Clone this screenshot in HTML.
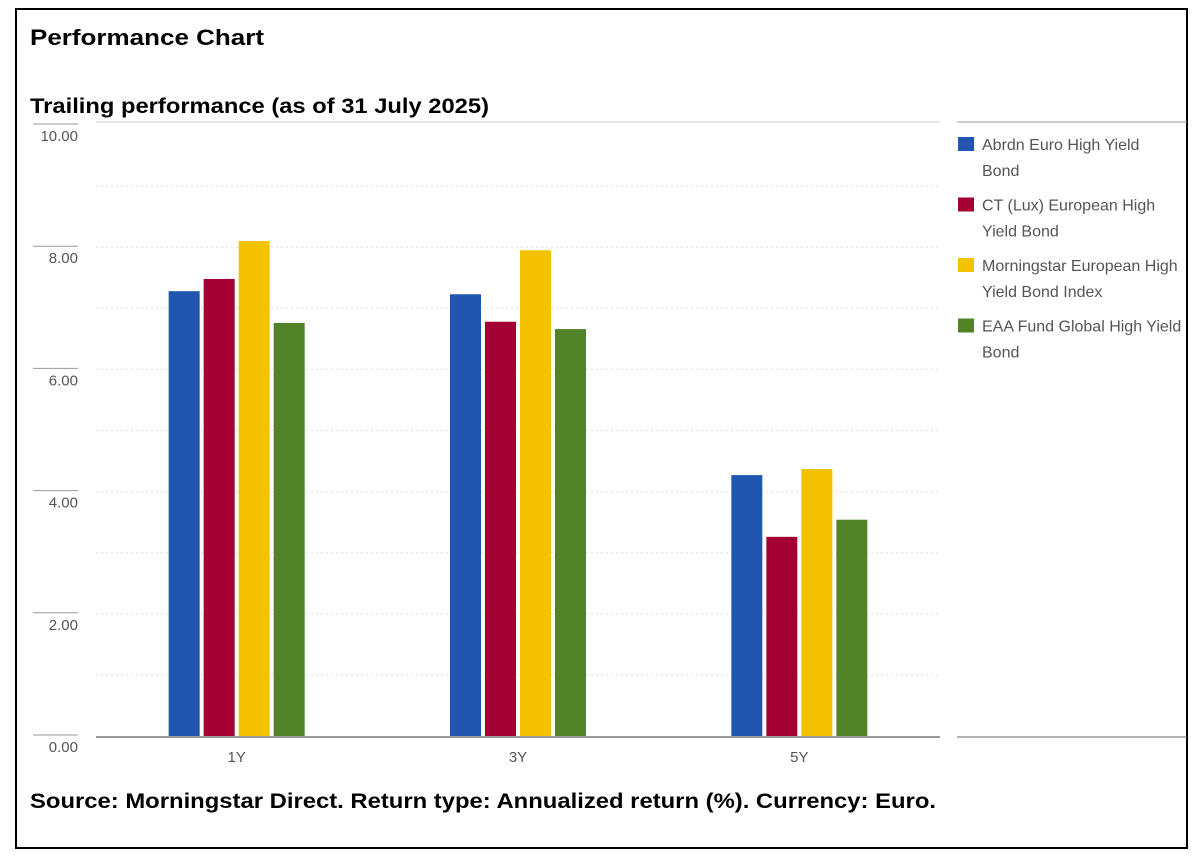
<!DOCTYPE html>
<html><head><meta charset="utf-8"><style>
html,body{margin:0;padding:0;background:#fff;}
svg{display:block;font-family:"Liberation Sans",sans-serif;}
</style></head><body>
<svg id="chart" width="1200" height="859" viewBox="0 0 1200 859">
<rect x="16" y="9" width="1171" height="839" fill="#fff" stroke="#000" stroke-width="2"/>
<text x="30" y="45" font-size="22" font-weight="bold" textLength="234" lengthAdjust="spacingAndGlyphs">Performance Chart</text>
<text x="30" y="113" font-size="21" font-weight="bold" textLength="459" lengthAdjust="spacingAndGlyphs">Trailing performance (as of 31 July 2025)</text>
<text x="30" y="808" font-size="21" font-weight="bold" textLength="906" lengthAdjust="spacingAndGlyphs">Source: Morningstar Direct. Return type: Annualized return (%). Currency: Euro.</text>
<line x1="96" y1="122" x2="940" y2="122" stroke="#ccc" stroke-width="1"/>
<line x1="957" y1="122" x2="1187" y2="122" stroke="#999" stroke-width="1"/>
<line x1="957" y1="737" x2="1187" y2="737" stroke="#666" stroke-width="1"/>
<g id="grid"></g><g id="yaxis"></g><g id="bars"></g><g id="xaxis"></g><g id="legend"></g>
</svg>
<script>
const categories = ["1Y", "3Y", "5Y"];
const seriesNames = ["Abrdn Euro High Yield Bond", "CT (Lux) European High Yield Bond", "Morningstar European High Yield Bond Index", "EAA Fund Global High Yield Bond"];
const legendLines = [["Abrdn Euro High Yield","Bond"],["CT (Lux) European High","Yield Bond"],["Morningstar European High","Yield Bond Index"],["EAA Fund Global High Yield","Bond"]];
const seriesAbrdn = [7.28, 7.23, 4.27];
const seriesCT = [7.48, 6.78, 3.26];
const seriesIndex = [8.10, 7.95, 4.37];
const seriesEAA = [6.76, 6.66, 3.54];
const yTicks = [0, 2, 4, 6, 8, 10];
const yTickLabels = ["0.00", "2.00", "4.00", "6.00", "8.00", "10.00"];
const colors = ["#2056b0", "#a50034", "#f4c300", "#528329"];
const series = [seriesAbrdn, seriesCT, seriesIndex, seriesEAA];
const NS = "http://www.w3.org/2000/svg";
const plotL = 96, plotR = 940, y0 = 736, yMax = 10, yTop = 125;
function y(v){ return y0 - (v / yMax) * (y0 - yTop); }
const bandW = (plotR - plotL) / categories.length;
function xc(i){ return plotL + bandW * (i + 0.5); }
function mk(tag, attrs, parent){ const e = document.createElementNS(NS, tag); for (const k in attrs) e.setAttribute(k, attrs[k]); parent.appendChild(e); return e; }
const grid = document.getElementById("grid"), yax = document.getElementById("yaxis"), bars = document.getElementById("bars"), xax = document.getElementById("xaxis"), leg = document.getElementById("legend");
for (let v = 1; v < yMax; v++) {
  const l = mk("line", {x1: plotL, x2: plotR, y1: y(v), y2: y(v), stroke: "#ddd", "stroke-dasharray": "2,3"}, grid);
  
  
}
yTicks.forEach((v, i) => {
  const t = mk("line", {x1: 33, x2: 78, y1: y(v) - 1, y2: y(v) - 1, stroke: "#999", "stroke-width": 1}, yax);
  
  
  const tx = mk("text", {x: 78, y: y(v) + 16, "text-anchor": "end", "font-size": 15, fill: "#555"}, yax);
  tx.textContent = yTickLabels[i];
  
  
});
const bw = 31, step = 35;
categories.forEach((c, i) => {
  series.forEach((s, j) => {
    const x = xc(i) - 2 * step + j * step + 2;
    const r = mk("rect", {x: x, y: y(s[i]), width: bw, height: y0 - y(s[i]), fill: colors[j]}, bars);
    
    
  });
  const lt = mk("text", {x: xc(i), y: 762, "text-anchor": "middle", "font-size": 15, fill: "#555"}, xax);
  lt.textContent = c;
  
  
});
const bl = mk("line", {x1: plotL, x2: plotR, y1: y0 + 1, y2: y0 + 1, stroke: "#777", "stroke-width": 1.5}, xax);


seriesNames.forEach((n, j) => {
  const g = mk("g", {}, leg);
  
  
  const top = 137 + j * 60.5;
  mk("rect", {x: 958, y: top, width: 16, height: 14, fill: colors[j]}, g);
  legendLines[j].forEach((ln, k) => {
    const t = mk("text", {x: 982, y: top + 13 + k * 26, "font-size": 16, fill: "#555"}, g);
    t.textContent = ln;
  });
});
</script>
</body></html>
